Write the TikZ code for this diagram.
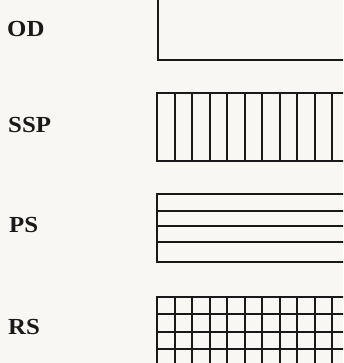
\documentclass[tikz,border=0pt]{standalone}
\usepackage{fontspec}
\setmainfont{Liberation Serif}[FakeStretch=1.08]
\definecolor{paper}{RGB}{249,247,244}
\definecolor{ink}{RGB}{25,25,25}
\begin{document}
\begin{tikzpicture}[x=1pt,y=-1pt,
  lbl/.style={anchor=base west, inner sep=0pt, font=\fontsize{23}{25}\selectfont\bfseries, text=ink},
  frame/.style={draw=ink, line width=1.9pt},
  hatch/.style={draw=ink, line width=1.6pt}]
\fill[paper] (0,0) rectangle (343,363);
\useasboundingbox (0,0) rectangle (343,363);
\clip (0,0) rectangle (343,363);
% labels
\node[lbl] (od)  at (7,37) {OD};
\node[lbl] (ssp) at (8,132.5) {SSP};
\node[lbl] (ps)  at (9,232.5) {PS};
\node[lbl] (rs)  at (8,334) {RS};
% OD: empty box
\draw[frame] (158,-5) -- (158,60) -- (350,60);
% SSP: vertical stripes
\foreach \xx in {175,192,210,227,245,262,280,297,315,332} \draw[hatch] (\xx,93) -- (\xx,161);
\draw[frame] (350,93) -| (157,161) -- (350,161);
% PS: horizontal stripes
\foreach \yy in {211,226,242} \draw[hatch] (157,\yy) -- (350,\yy);
\draw[frame] (350,194) -| (157,262) -- (350,262);
% RS: grid
\foreach \yy in {314,332,349} \draw[hatch] (157,\yy) -- (350,\yy);
\foreach \xx in {175,192,210,227,245,262,280,297,315,332} \draw[hatch] (\xx,297) -- (\xx,370);
\draw[frame] (350,297) -| (157,370);
\end{tikzpicture}
\end{document}
